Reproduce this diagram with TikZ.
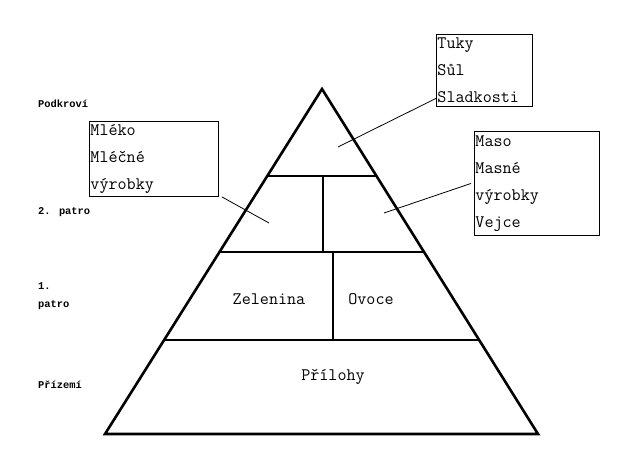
\documentclass[tikz,border=0pt]{standalone}
\usepackage{fontspec}
\newfontfamily\labelfont{Liberation Mono}
\newfontfamily\foodfont{Latin Modern Mono}
\usetikzlibrary{calc}

\tikzset{
  floor/.style={font=\labelfont\bfseries\fontsize{10.4}{18}\selectfont, anchor=west, inner sep=0pt, align=left},
  food/.style={font=\foodfont\fontsize{17.6}{27}\selectfont, inner sep=0pt},
  foodbox/.style={draw, line width=0.9pt, anchor=north west, inner sep=1pt, align=left,
    font=\foodfont\fontsize{17.6}{27}\selectfont},
  wall/.style={line width=2.6pt},
  link/.style={line width=0.8pt}
}

\begin{document}
\begin{tikzpicture}[x=1pt,y=-1pt]
\useasboundingbox (0,0) rectangle (639,463);
% pyramid
\coordinate (apex) at (322,89);
\coordinate (bl) at (105,434);
\coordinate (br) at (538,434);
\draw[wall,line join=miter] (apex) -- (bl) -- (br) -- cycle;
\draw[wall] ($(apex)!0.252!(bl)$) -- ($(apex)!0.252!(br)$);
\draw[wall] ($(apex)!0.4725!(bl)$) -- ($(apex)!0.4725!(br)$);
\draw[wall] ($(apex)!0.7275!(bl)$) -- ($(apex)!0.7275!(br)$);
\draw[wall] (323,176) -- (323,252);
\draw[wall] (333,252) -- (333,340);

% floors
\node[floor] (podkrovi) at (38,104) {Podkroví};
\node[floor] (patro2) at (38,212) {2. patro};
\node[floor] (patro1) at (38,296) {1.\\patro};
\node[floor] (prizemi) at (38,385) {Přízemí};

% food in the pyramid
\node[food] (zelenina) at (269,299) {Zelenina};
\node[food] (ovoce) at (371,299) {Ovoce};
\node[food] (prilohy) at (333,377) {Přílohy};

% boxes
\node[foodbox, text width=94pt, minimum height=72pt] (tuky) at (436,34) {Tuky\\Sůl\\Sladkosti};
\node[foodbox, text width=127pt, minimum height=75pt] (mleko) at (89,121) {Mléko\\Mléčné\\výrobky};
\node[foodbox, text width=123pt, minimum height=104pt] (maso) at (474,131) {Maso\\Masné\\výrobky\\Vejce};

\coordinate (tukyend) at (338,147);
\coordinate (mlekoend) at (269,223);
\coordinate (masoend) at (384,213);
\draw[link] (tuky.210) -- (tukyend);
\draw[link] (mleko.south east) ++(3,0) -- (mlekoend);
\draw[link] (maso.west) ++(-3,0) -- (masoend);
\end{tikzpicture}
\end{document}
